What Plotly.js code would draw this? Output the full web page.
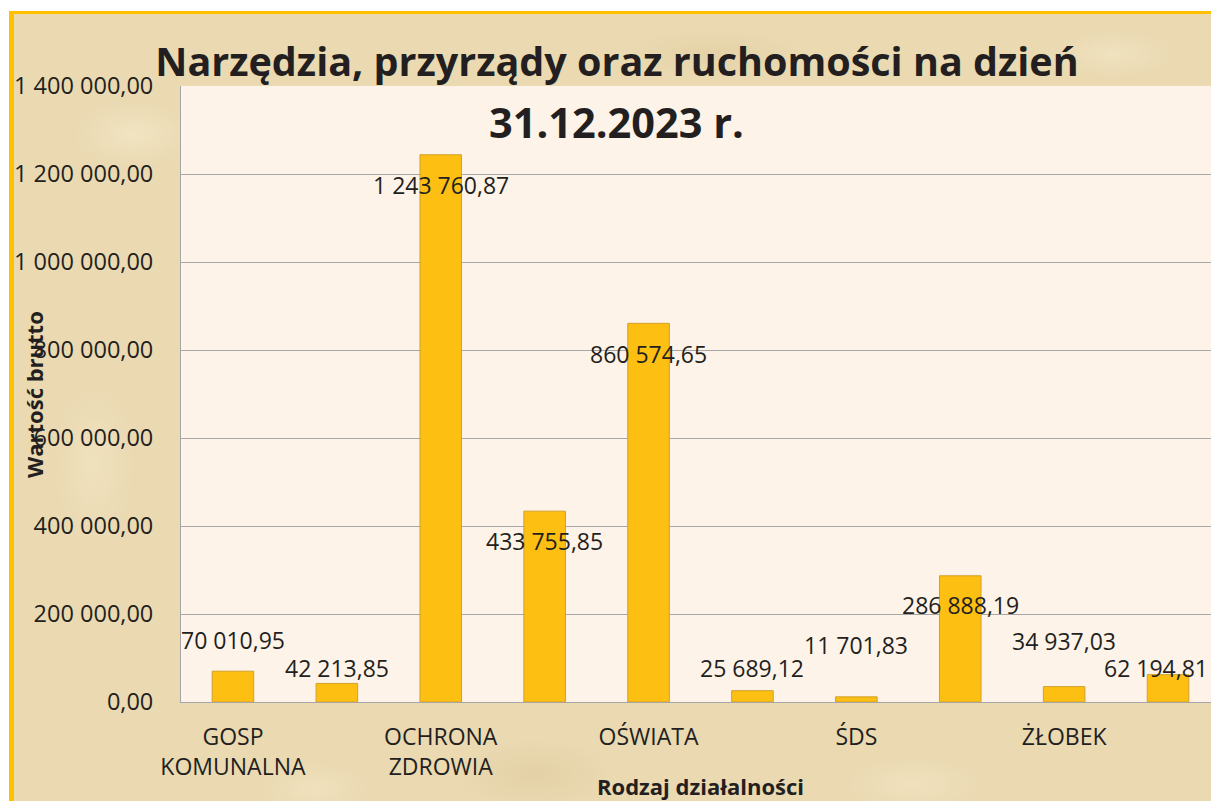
<!DOCTYPE html>
<html>
<head>
<meta charset="utf-8">
<script src="https://cdn.plot.ly/plotly-3.0.1.min.js"></script>
<style>
  html, body { margin:0; padding:0; width:1211px; height:801px; overflow:hidden; background:#ffffff; }
  #frame {
    position:absolute; left:9px; top:11px; width:1220px; height:800px;
    border-left:5px solid #FFC000; border-top:3px solid #FFC000;
    background-color:#EAD9B1;
    background-image:
      radial-gradient(ellipse 90px 50px at 120px 120px, rgba(255,248,225,0.35), rgba(255,248,225,0) 70%),
      radial-gradient(ellipse 110px 50px at 520px 760px, rgba(205,178,130,0.22), rgba(205,178,130,0) 70%),
      radial-gradient(ellipse 100px 40px at 900px 770px, rgba(255,245,220,0.30), rgba(255,245,220,0) 70%),
      radial-gradient(ellipse 60px 120px at 80px 450px, rgba(255,246,222,0.30), rgba(255,246,222,0) 70%),
      radial-gradient(ellipse 130px 35px at 700px 40px, rgba(210,182,135,0.20), rgba(210,182,135,0) 70%),
      radial-gradient(ellipse 80px 40px at 300px 775px, rgba(255,244,218,0.30), rgba(255,244,218,0) 70%),
      radial-gradient(ellipse 90px 35px at 1100px 40px, rgba(255,246,225,0.30), rgba(255,246,225,0) 70%);
  }
  #chart { position:absolute; left:0; top:0; width:1240px; height:801px; }
</style>
</head>
<body>
<div id="frame"></div>
<div id="chart"></div>
<script>
// ---- data ----
var categoryLabels = ['GOSP<br>KOMUNALNA', '', 'OCHRONA<br>ZDROWIA', '', 'OŚWIATA', '', 'ŚDS', '', 'ŻŁOBEK', ''];
var values = [70010.95, 42213.85, 1243760.87, 433755.85, 860574.65, 25689.12, 11701.83, 286888.19, 34937.03, 62194.81];
var yTickValues = [0, 200000, 400000, 600000, 800000, 1000000, 1200000, 1400000];
var titleLine1 = 'Narzędzia, przyrządy oraz ruchomości na dzień';
var titleLine2 = '31.12.2023 r.';
var xTitle = 'Rodzaj działalności';
var yTitle = 'Wartość brutto';

// ---- style (label offsets in px; y positive = up) ----
var labelShiftY = [31, 15, -30, -30, -31, 23, 52, -29, 46, 7];
var labelShiftX = [0, 0, 0, 0, 0, 0, 0, 0, 0, -12];

function fmt(v) {
  var parts = v.toFixed(2).split('.');
  var intPart = parts[0].replace(/\B(?=(\d{3})+(?!\d))/g, ' ');
  return intPart + ',' + parts[1];
}

var xs = values.map(function (v, i) { return i; });
var textColor = '#231F20';
var fontFamily = '"Open Sans", "Noto Sans", sans-serif';

var trace = {
  type: 'bar',
  x: xs,
  y: values,
  width: 0.4,
  marker: { color: '#FDBF12', line: { color: '#D2A02C', width: 1 } },
  hoverinfo: 'none'
};

var annotations = values.map(function (v, i) {
  return {
    x: xs[i], y: v, xref: 'x', yref: 'y',
    text: fmt(v), showarrow: false,
    xanchor: 'center', yanchor: 'middle',
    yshift: labelShiftY[i], xshift: labelShiftX[i],
    font: { family: fontFamily, size: 23, color: textColor }
  };
});
annotations.push({
  text: '<b>' + yTitle + '</b>', textangle: -90, showarrow: false,
  xref: 'paper', yref: 'paper',
  x: (34 - 181) / 1039, y: (702 - 395) / 616,
  xanchor: 'center', yanchor: 'middle',
  font: { family: fontFamily, size: 22, color: textColor }
});
annotations.push({
  text: '<b>' + titleLine2 + '</b>', showarrow: false,
  xref: 'paper', yref: 'paper',
  x: (616 - 181) / 1039, y: (702 - 122) / 616,
  xanchor: 'center', yanchor: 'middle',
  font: { family: fontFamily, size: 41.5, color: textColor }
});

var layout = {
  width: 1240, height: 801,
  margin: { l: 181, r: 20, t: 86, b: 99 },
  paper_bgcolor: 'rgba(0,0,0,0)',
  plot_bgcolor: '#FDF3E8',
  separators: ', ',
  showlegend: false,
  title: {
    text: titleLine1,
    font: { family: fontFamily, size: 39.5, color: textColor, weight: 'bold' },
    xref: 'paper', x: (617 - 181) / 1039, xanchor: 'center',
    yref: 'container', y: 1 - 62 / 801, yanchor: 'middle'
  },
  xaxis: {
    range: [-0.5, 9.5],
    tickmode: 'array', tickvals: xs, ticktext: categoryLabels,
    showgrid: false, zeroline: false,
    showline: true, linecolor: '#A6A6A6', linewidth: 1,
    ticks: '', ticklabelstandoff: 14,
    tickfont: { family: fontFamily, size: 23, color: textColor },
    title: { text: '<b>' + xTitle + '</b>', font: { family: fontFamily, size: 22, color: textColor }, standoff: 6 }
  },
  yaxis: {
    range: [0, 1400000],
    tickmode: 'array', tickvals: yTickValues, tickformat: ',.2f',
    showgrid: true, gridcolor: '#A6A6A6', gridwidth: 1,
    zeroline: false,
    showline: true, linecolor: '#A6A6A6', linewidth: 1,
    ticks: '', ticklabelstandoff: 22,
    tickfont: { family: fontFamily, size: 23.5, color: textColor }
  },
  annotations: annotations
};

Plotly.newPlot('chart', [trace], layout, { staticPlot: true, displayModeBar: false });
</script>
</body>
</html>
